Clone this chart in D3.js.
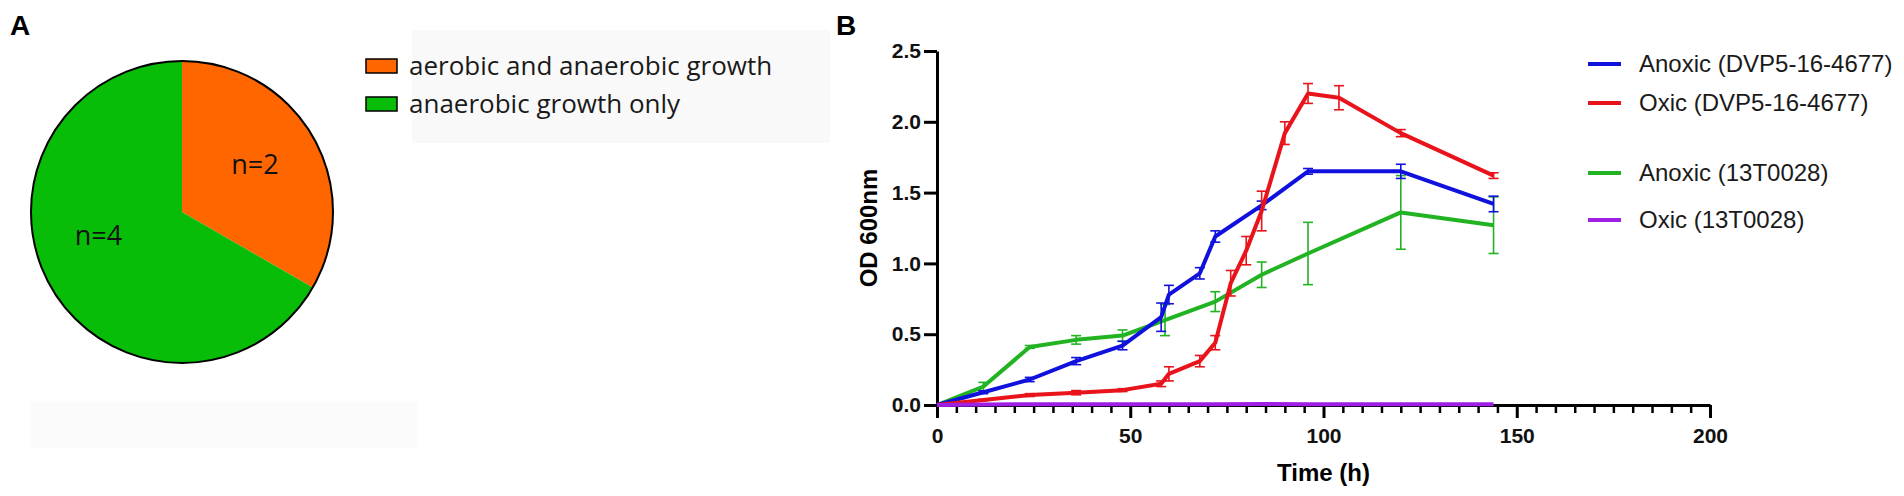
<!DOCTYPE html>
<html>
<head>
<meta charset="utf-8">
<script src="https://cdn.jsdelivr.net/npm/d3@7"></script>
<style>
  body { margin: 0; background: #fff; }
  svg { display: block; }
  .axis text { font-family: "Liberation Sans", Arial, sans-serif; font-weight: bold; font-size: 21px; fill: #111; }
  .axis path, .axis line { stroke: #000; }
</style>
</head>
<body>
<svg id="fig" width="1904" height="496"></svg>
<script>
// ---- panel A data ----
const pieLabels = ["aerobic and anaerobic growth", "anaerobic growth only"];
const pieCounts = [2, 4];
const pieColors = ["#ff6600", "#07bd07"];

// ---- panel B data (time in h, OD600, error) ----
const seriesNames = ["Anoxic (DVP5-16-4677)", "Oxic (DVP5-16-4677)", "Anoxic (13T0028)", "Oxic (13T0028)"];
const seriesColors = ["#1111dd", "#e8131b", "#22b322", "#a01fe6"];

const anoxicDvpTime = [0, 12, 24, 36, 48, 58, 60, 68, 72, 84, 96, 120, 144];
const anoxicDvpOD   = [0, 0.09, 0.18, 0.31, 0.42, 0.62, 0.78, 0.93, 1.19, 1.41, 1.65, 1.65, 1.42];
const anoxicDvpErr  = [0, 0.01, 0.015, 0.025, 0.03, 0.1, 0.065, 0.04, 0.04, 0.03, 0.02, 0.05, 0.055];

const oxicDvpTime = [0, 12, 24, 36, 48, 58, 60, 68, 72, 76, 80, 84, 90, 96, 104, 120, 144];
const oxicDvpOD   = [0, 0.035, 0.07, 0.087, 0.105, 0.15, 0.22, 0.31, 0.44, 0.86, 1.09, 1.37, 1.92, 2.2, 2.17, 1.92, 1.62];
const oxicDvpErr  = [0, 0.005, 0.01, 0.015, 0.01, 0.02, 0.05, 0.04, 0.05, 0.09, 0.1, 0.14, 0.08, 0.07, 0.085, 0.025, 0.02];

const anoxic13Time = [0, 12, 24, 36, 48, 59, 72, 84, 96, 120, 144];
const anoxic13OD   = [0, 0.13, 0.41, 0.46, 0.49, 0.6, 0.73, 0.92, 1.07, 1.36, 1.27];
const anoxic13Err  = [0, 0.03, 0.01, 0.03, 0.04, 0.11, 0.07, 0.09, 0.22, 0.26, 0.2];

const oxic13Time = [0, 12, 24, 36, 48, 60, 72, 84, 96, 120, 144];
const oxic13OD   = [0, 0.004, 0.005, 0.005, 0.006, 0.006, 0.006, 0.007, 0.006, 0.006, 0.006];
const oxic13Err  = [0, 0, 0, 0, 0, 0, 0, 0, 0, 0, 0];

const yTicks = [0, 0.5, 1.0, 1.5, 2.0, 2.5];
const xMajorTicks = [0, 50, 100, 150, 200];

const svg = d3.select("#fig");

// ================= Panel A: pie =================
const pieCfg = {cx: 182, cy: 212, r: 151, labelR: 87, labelShift: [-3, 14]};

// faint grey boxes left over from the original figure
svg.append("rect").attr("x", 412).attr("y", 30).attr("width", 418).attr("height", 113).attr("fill", "#f9f9f9");
svg.append("rect").attr("x", 30).attr("y", 402).attr("width", 388).attr("height", 46).attr("fill", "#fbfbfb");

svg.append("text")
    .attr("x", 10).attr("y", 35)
    .style("font-family", "Liberation Sans, Arial, sans-serif")
    .style("font-weight", "bold").style("font-size", "28px")
    .text("A");

const pie = d3.pie().sort(null).value(d => d);
const arcs = pie(pieCounts);
const arc = d3.arc().innerRadius(0).outerRadius(pieCfg.r);

const pieG = svg.append("g").attr("transform", `translate(${pieCfg.cx},${pieCfg.cy})`);
pieG.selectAll("path.slice")
    .data(arcs)
    .join("path")
    .attr("class", "slice")
    .attr("d", arc)
    .attr("fill", (d, i) => pieColors[i]);

pieG.append("circle").attr("r", pieCfg.r).attr("fill", "none").attr("stroke", "#000").attr("stroke-width", 2);

// label angle = slice middle, nudged a little to sit where the original puts it
function labelAngle(d, i) {
    return (d.startAngle + d.endAngle) / 2 + pieCfg.labelShift[i] * Math.PI / 180;
}

pieG.selectAll("text.plabel")
    .data(arcs)
    .join("text")
    .attr("class", "plabel")
    .attr("x", (d, i) => pieCfg.labelR * Math.sin(labelAngle(d, i)))
    .attr("y", (d, i) => -pieCfg.labelR * Math.cos(labelAngle(d, i)))
    .attr("text-anchor", "middle")
    .attr("dy", "0.35em")
    .style("font-family", "Open Sans, sans-serif")
    .style("font-size", "27px")
    .style("fill", "#111")
    .text(d => `n=${d.data}`);

// pie legend
const pieLeg = svg.append("g").attr("transform", "translate(366,66)");
pieLabels.forEach((lab, i) => {
    pieLeg.append("rect")
        .attr("x", 0).attr("y", i * 38 - 7)
        .attr("width", 31).attr("height", 14)
        .attr("fill", pieColors[i]).attr("stroke", "#000").attr("stroke-width", 1.5);
    pieLeg.append("text")
        .attr("x", 43).attr("y", i * 38)
        .attr("dy", "0.35em")
        .style("font-family", "Open Sans, sans-serif")
        .style("font-size", "26px")
        .style("fill", "#1a1a1a")
        .text(lab);
});

// ================= Panel B: growth curves =================
const plot = {left: 937, right: 1710, top: 51, bottom: 405};

svg.append("text")
    .attr("x", 836).attr("y", 35)
    .style("font-family", "Liberation Sans, Arial, sans-serif")
    .style("font-weight", "bold").style("font-size", "28px")
    .text("B");

const xScale = d3.scaleLinear().domain([0, 200]).range([plot.left, plot.right]);
const yScale = d3.scaleLinear().domain([0, 2.5]).range([plot.bottom, plot.top]);

// minor x ticks every 5 h
const minorTicks = d3.range(0, 201, 5).filter(t => t % 50 !== 0);
svg.append("g")
    .attr("class", "axis")
    .attr("transform", `translate(0,${plot.bottom})`)
    .call(d3.axisBottom(xScale).tickValues(minorTicks).tickSize(8).tickSizeOuter(0).tickFormat(""))
    .call(g => g.select(".domain").remove())
    .call(g => g.selectAll("line").attr("stroke-width", 2.5));

const xAxisG = svg.append("g")
    .attr("class", "axis")
    .attr("transform", `translate(0,${plot.bottom})`)
    .call(d3.axisBottom(xScale).tickValues(xMajorTicks).tickSize(13).tickSizeOuter(0).tickPadding(10));
xAxisG.select(".domain").attr("stroke-width", 3);
xAxisG.selectAll("line").attr("stroke-width", 3);

const yAxisG = svg.append("g")
    .attr("class", "axis")
    .attr("transform", `translate(${plot.left},0)`)
    .call(d3.axisLeft(yScale).tickValues(yTicks).tickSize(13).tickSizeOuter(0).tickPadding(3).tickFormat(d3.format(".1f")));
yAxisG.select(".domain").attr("stroke-width", 3);
yAxisG.selectAll("line").attr("stroke-width", 3);

// axis titles
svg.append("text")
    .attr("x", (plot.left + plot.right) / 2).attr("y", 481)
    .attr("text-anchor", "middle")
    .style("font-family", "Liberation Sans, Arial, sans-serif")
    .style("font-weight", "bold").style("font-size", "24px")
    .text("Time (h)");

svg.append("text")
    .attr("transform", `translate(877,${(plot.top + plot.bottom) / 2}) rotate(-90)`)
    .attr("text-anchor", "middle")
    .style("font-family", "Liberation Sans, Arial, sans-serif")
    .style("font-weight", "bold").style("font-size", "24px")
    .text("OD 600nm");

// build series table from the arrays (drawing order: green, blue, red, purple)
const series = [
    {name: seriesNames[2], color: seriesColors[2], t: anoxic13Time, v: anoxic13OD, e: anoxic13Err},
    {name: seriesNames[0], color: seriesColors[0], t: anoxicDvpTime, v: anoxicDvpOD, e: anoxicDvpErr},
    {name: seriesNames[1], color: seriesColors[1], t: oxicDvpTime, v: oxicDvpOD, e: oxicDvpErr},
    {name: seriesNames[3], color: seriesColors[3], t: oxic13Time, v: oxic13OD, e: oxic13Err}
].map(s => ({...s, pts: s.t.map((t, i) => ({t: t, v: s.v[i], e: s.e[i]}))}));

const line = d3.line().x(d => xScale(d.t)).y(d => yScale(d.v));
const capW = 5;

series.forEach(s => {
    const g = svg.append("g");
    const bars = s.pts.filter(d => d.e > 0);
    g.selectAll("line.err")
        .data(bars)
        .join("line")
        .attr("class", "err")
        .attr("x1", d => xScale(d.t)).attr("x2", d => xScale(d.t))
        .attr("y1", d => yScale(d.v - d.e)).attr("y2", d => yScale(d.v + d.e))
        .attr("stroke", s.color).attr("stroke-width", 1.6);
    [1, -1].forEach(sign => {
        g.selectAll("line.cap" + (sign > 0 ? "u" : "d"))
            .data(bars)
            .join("line")
            .attr("x1", d => xScale(d.t) - capW).attr("x2", d => xScale(d.t) + capW)
            .attr("y1", d => yScale(d.v + sign * d.e)).attr("y2", d => yScale(d.v + sign * d.e))
            .attr("stroke", s.color).attr("stroke-width", 1.6);
    });
    g.append("path")
        .datum(s.pts)
        .attr("d", line)
        .attr("fill", "none")
        .attr("stroke", s.color)
        .attr("stroke-width", 4)
        .attr("stroke-linejoin", "round");
});

// legend for panel B
const legendY = [64, 103, 173, 220];
const legG = svg.append("g");
seriesNames.forEach((name, i) => {
    legG.append("line")
        .attr("x1", 1588).attr("x2", 1621)
        .attr("y1", legendY[i]).attr("y2", legendY[i])
        .attr("stroke", seriesColors[i]).attr("stroke-width", 4);
    legG.append("text")
        .attr("x", 1639).attr("y", legendY[i])
        .attr("dy", "0.35em")
        .style("font-family", "Liberation Sans, Arial, sans-serif")
        .style("font-size", "24px")
        .style("fill", "#1a1a1a")
        .text(name);
});
</script>
</body>
</html>
